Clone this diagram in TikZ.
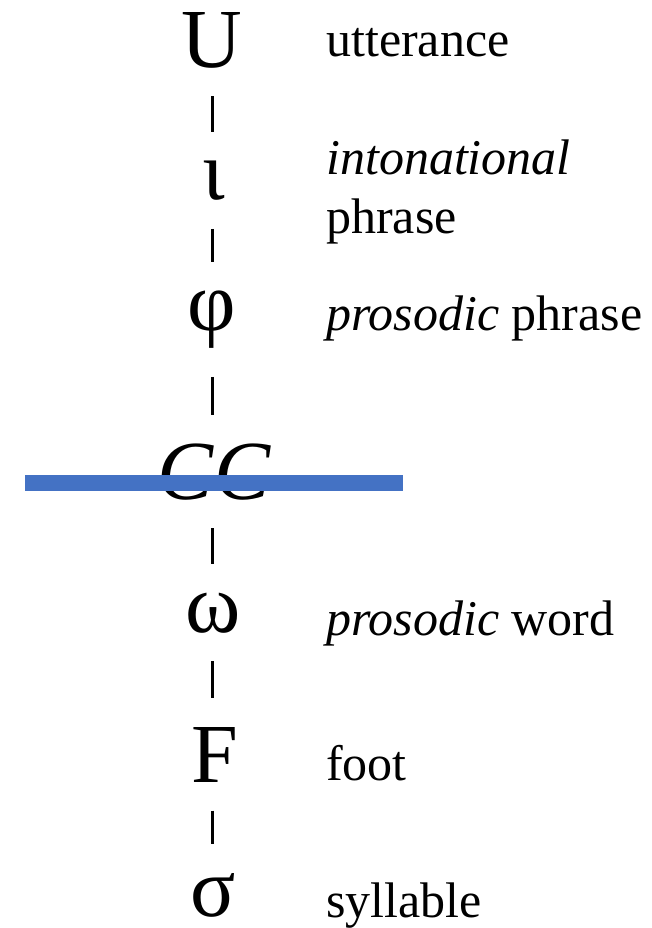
\documentclass[tikz,border=0pt]{standalone}
\usepackage{fontspec}
\setmainfont{Liberation Serif}
\begin{document}
\begin{tikzpicture}[x=1pt,y=-1pt,
  sym/.style={inner sep=0pt, anchor=center, font=\fontsize{84}{90}\selectfont},
  lab/.style={inner sep=0pt, anchor=base west, font=\fontsize{50}{56}\selectfont, align=left},
  seg/.style={line width=3pt, shorten <=28pt, shorten >=29pt},
  bar/.style={line width=16pt, draw={rgb,255:red,68;green,114;blue,196}}]
\useasboundingbox (0,0) rectangle (651,928);
\coordinate (axis) at (212,0);
% symbols
\node[sym] (U) at (212,40) {U};
\node[sym] (iota) at (214,181) {ι};
\node[sym] (phi) at (212,320) {φ};
\node[sym] (CC) at (214,472) {\itshape CC};
\node[sym] (omega) at (213,613) {ω};
\node[sym] (F) at (215,755) {F};
\node[sym] (sigma) at (213,895) {σ};
% connectors
\draw[seg] (U.south -| axis) -- (iota.north -| axis);
\draw[seg] (iota.south -| axis) -- (phi.north -| axis);
\draw[seg] (phi.south -| axis) -- (CC.north -| axis);
\draw[seg] (CC.south -| axis) -- (omega.north -| axis);
\draw[seg] (omega.south -| axis) -- (F.north -| axis);
\draw[seg] (F.south -| axis) -- (sigma.north -| axis);
% blue bar
\coordinate (barL) at (25,483);
\coordinate (barR) at (403,483);
\draw[bar] (barL) -- (barR);
% labels
\node[lab] (lU) at (326,57) {utterance};
\node[lab] (lI) at (326,175) {\itshape intonational};
\node[lab] (lI2) at (326,233) {phrase};
\node[lab] (lP) at (326,330) {\itshape prosodic\upshape{} phrase};
\node[lab] (lW) at (326,635) {\itshape prosodic\upshape{} word};
\node[lab] (lF) at (326,780) {foot};
\node[lab] (lS) at (326,917) {syllable};
\end{tikzpicture}
\end{document}
